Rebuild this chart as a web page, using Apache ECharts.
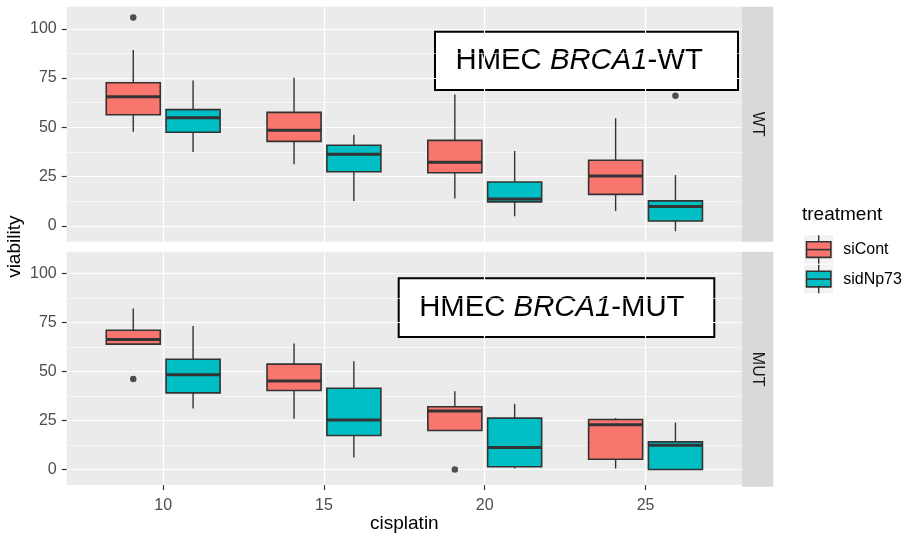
<!DOCTYPE html>
<html>
<head>
<meta charset="utf-8">
<script src="https://cdn.jsdelivr.net/npm/echarts@6/dist/echarts.min.js"></script>
<style>
  html, body { margin: 0; padding: 0; background: #fff; }
  #chart { width: 906px; height: 534px; }
</style>
</head>
<body>
<div id="chart"></div>
<script>
const doses = [10, 15, 20, 25];
const treatments = ['siCont', 'sidNp73'];
const facets = ['WT', 'MUT'];
const yTicks = [0, 25, 50, 75, 100];
const yMinorTicks = [12.5, 37.5, 62.5, 87.5];

// per dose: [lower whisker, q1, median, q3, upper whisker]
const wtSiCont = [[47.8, 56.4, 65.5, 72.6, 89.2], [31.3, 42.9, 48.5, 57.6, 75.2], [13.9, 27.0, 32.3, 43.4, 66.7], [7.6, 16.0, 25.3, 33.3, 54.6]];
const wtSidNp73 = [[37.5, 47.5, 54.9, 59.0, 73.8], [12.7, 27.5, 36.3, 40.9, 46.3], [4.9, 12.2, 13.7, 22.3, 38.0], [-2.7, 2.5, 9.8, 12.7, 25.8]];
const mutSiCont = [[64.0, 64.0, 66.3, 71.1, 82.2], [25.9, 40.3, 45.2, 53.8, 64.3], [19.9, 19.9, 29.9, 32.0, 39.9], [0.5, 5.2, 22.8, 25.5, 26.2]];
const mutSidNp73 = [[31.1, 39.1, 48.4, 56.3, 73.3], [6.1, 17.3, 25.2, 41.5, 55.2], [0.5, 1.4, 11.2, 26.2, 33.5], [0, 0, 12.3, 14.1, 23.9]];

// outliers: [dose, treatment index, value]
const wtOutliers = [[10, 0, 105.7], [25, 1, 66.0]];
const mutOutliers = [[10, 0, 46.2], [20, 0, 0]];

const colors = ['#F8766D', '#00BFC4'];
const dodge = [-0.93, 0.93];
const boxWidth = 1.68;

const stats = [[wtSiCont, wtSidNp73], [mutSiCont, mutSidNp73]];
const outliers = [wtOutliers, mutOutliers];

const chart = echarts.init(document.getElementById('chart'));

function renderBox(params, api) {
    const x = api.value(0);
    const lo = api.coord([x, api.value(1)]);
    const q1 = api.coord([x, api.value(2)]);
    const med = api.coord([x, api.value(3)]);
    const q3 = api.coord([x, api.value(4)]);
    const hi = api.coord([x, api.value(5)]);
    const half = api.size([boxWidth, 0])[0] / 2;
    const cx = med[0];
    const edge = {stroke: '#333333', lineWidth: 1.4};
    return {
        type: 'group',
        children: [
            {type: 'line', shape: {x1: cx, y1: hi[1], x2: cx, y2: q3[1]}, style: edge},
            {type: 'line', shape: {x1: cx, y1: q1[1], x2: cx, y2: lo[1]}, style: edge},
            {type: 'rect', shape: {x: cx - half, y: q3[1], width: half * 2, height: q1[1] - q3[1]},
                style: {fill: api.visual('color'), stroke: '#333333', lineWidth: 1.6}},
            {type: 'line', shape: {x1: cx - half, y1: med[1], x2: cx + half, y2: med[1]},
                style: {stroke: '#333333', lineWidth: 3}}
        ]
    };
}

const grids = [
    {left: 66.7, top: 6.7, width: 675.3, height: 235},
    {left: 66.7, top: 251.7, width: 675.3, height: 235}
].map(g => Object.assign(g, {show: true, backgroundColor: '#EBEBEB', borderWidth: 0}));

const xAxes = [];
const yAxes = [];
facets.forEach((f, i) => {
    const bottom = i === facets.length - 1;
    xAxes.push({
        type: 'value', gridIndex: i, min: 7, max: 28, position: 'bottom',
        axisLine: {show: false, onZero: false},
        axisTick: {show: bottom, length: 5, customValues: doses, lineStyle: {color: '#333333', width: 1.2}},
        axisLabel: {show: bottom, customValues: doses, margin: 12, fontSize: 16, color: '#4D4D4D', fontFamily: 'Liberation Sans'},
        splitLine: {show: true, lineStyle: {color: '#FFFFFF', width: 1.2}},
        name: bottom ? 'cisplatin' : '',
        nameLocation: 'middle', nameGap: 28,
        nameTextStyle: {fontSize: 19, color: '#000', fontFamily: 'Liberation Sans'}
    });
    yAxes.push({
        type: 'value', gridIndex: i, min: -8, max: 111.2,
        axisLine: {show: false, onZero: false},
        axisTick: {show: true, length: 5, customValues: yTicks, lineStyle: {color: '#333333', width: 1.2}},
        axisLabel: {customValues: yTicks, margin: 10, fontSize: 16, color: '#4D4D4D', fontFamily: 'Liberation Sans'},
        splitLine: {show: true, lineStyle: {color: '#FFFFFF', width: 1.2}}
    });
    // minor gridlines
    yAxes.push({
        type: 'value', gridIndex: i, min: -8, max: 111.2, position: 'left',
        axisLine: {show: false, onZero: false},
        axisTick: {show: false, customValues: yMinorTicks},
        axisLabel: {show: false, customValues: yMinorTicks},
        splitLine: {show: true, lineStyle: {color: '#FFFFFF', width: 0.6}}
    });
});

const series = [];
facets.forEach((f, i) => {
    treatments.forEach((t, j) => {
        series.push({
            name: t, type: 'custom', xAxisIndex: i, yAxisIndex: i * 2,
            itemStyle: {color: colors[j]},
            renderItem: renderBox,
            encode: {x: 0, y: [1, 2, 3, 4, 5]},
            data: doses.map((d, k) => [d + dodge[j]].concat(stats[i][j][k])),
            z: 3
        });
    });
    series.push({
        type: 'scatter', xAxisIndex: i, yAxisIndex: i * 2,
        symbolSize: 6.5, itemStyle: {color: '#262626'},
        data: outliers[i].map(o => [o[0] + dodge[o[1]], o[2]]),
        z: 4
    });
});

function annotation(left, top, w, h, gene, suffix) {
    return {
        type: 'group', left: left, top: top, z: 10,
        children: [
            {type: 'rect', shape: {x: 0, y: 0, width: w, height: h},
                style: {fill: '#FFFFFF', stroke: '#000000', lineWidth: 2}},
            {type: 'text', x: 20.5, y: h / 2 + 0.5,
                style: {
                    text: '{n|HMEC }{i|' + gene + '}{n|' + suffix + '}',
                    align: 'left', verticalAlign: 'middle',
                    rich: {
                        n: {fontSize: 29.3, fontFamily: 'Liberation Sans', fill: '#000'},
                        i: {fontSize: 29.3, fontFamily: 'Liberation Sans', fontStyle: 'italic', fill: '#000'}
                    }
                }}
        ]
    };
}

function strip(top, label) {
    return {
        type: 'group', left: 742, top: top,
        children: [
            {type: 'rect', shape: {x: 0, y: 0, width: 31.3, height: 235}, style: {fill: '#D9D9D9'}},
            {type: 'text', x: 15.7, y: 117.5, rotation: -Math.PI / 2,
                style: {text: label, align: 'center', verticalAlign: 'middle', fontSize: 16,
                    fontFamily: 'Liberation Sans', fill: '#1A1A1A'}}
        ]
    };
}

function legendKey(top, color, label) {
    return {
        type: 'group', left: 804, top: top,
        children: [
            {type: 'rect', shape: {x: 0, y: 0, width: 29, height: 28.5}, style: {fill: '#F2F2F2'}},
            {type: 'line', shape: {x1: 14.5, y1: 0, x2: 14.5, y2: 28.5}, style: {stroke: '#333333', lineWidth: 1.4}},
            {type: 'rect', shape: {x: 2.3, y: 6.6, width: 24.4, height: 15.6},
                style: {fill: color, stroke: '#333333', lineWidth: 1.6}},
            {type: 'line', shape: {x1: 2.3, y1: 14.4, x2: 26.7, y2: 14.4}, style: {stroke: '#333333', lineWidth: 1.6}},
            {type: 'text', x: 39, y: 14.5,
                style: {text: label, verticalAlign: 'middle', fontSize: 16, fontFamily: 'Liberation Sans', fill: '#000'}}
        ]
    };
}

chart.setOption({
    animation: false,
    backgroundColor: '#FFFFFF',
    grid: grids,
    xAxis: xAxes,
    yAxis: yAxes,
    series: series,
    graphic: [
        annotation(434, 30.7, 303, 58.3, 'BRCA1', '-WT'),
        annotation(397.7, 277.3, 315.6, 58.7, 'BRCA1', '-MUT'),
        strip(6.7, facets[0]),
        strip(251.7, facets[1]),
        {type: 'text', x: 15, y: 246.7, rotation: Math.PI / 2,
            style: {text: 'viability', align: 'center', verticalAlign: 'middle', fontSize: 19,
                fontFamily: 'Liberation Sans', fill: '#000'}},
        {type: 'text', left: 802, top: 205,
            style: {text: 'treatment', fontSize: 19, fontFamily: 'Liberation Sans', fill: '#000'}},
        legendKey(232.7, colors[0], treatments[0]),
        legendKey(262.2, colors[1], treatments[1])
    ]
});
</script>
</body>
</html>
